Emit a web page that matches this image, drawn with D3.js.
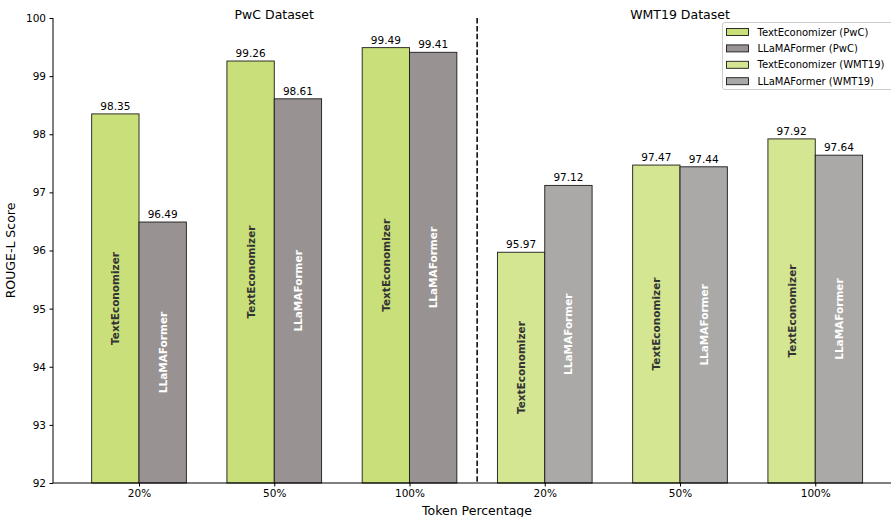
<!DOCTYPE html>
<html>
<head>
<meta charset="utf-8">
<script src="https://cdn.jsdelivr.net/npm/d3@7"></script>
<style>
  html, body { margin: 0; padding: 0; background: #fff; }
  svg { display: block; font-family: "DejaVu Sans", sans-serif; }
</style>
</head>
<body>
<svg id="chart" width="891" height="517"></svg>
<script>
// Token percentage groups, two datasets side by side
const groups = ["20%", "50%", "100%", "20%", "50%", "100%"];
const datasets = ["PwC Dataset", "WMT19 Dataset"];
const textEconomizer = [98.35, 99.26, 99.49, 95.97, 97.47, 97.92];
const llamaFormer = [96.49, 98.61, 99.41, 97.12, 97.44, 97.64];
const yTicks = [92, 93, 94, 95, 96, 97, 98, 99, 100];
const legendLabels = ["TextEconomizer (PwC)", "LLaMAFormer (PwC)", "TextEconomizer (WMT19)", "LLaMAFormer (WMT19)"];
const fills = { tePwc: "#c9e07a", llPwc: "#989392", teWmt: "#d4e691", llWmt: "#aaa9a8" };

const svg = d3.select("#chart");
const plotLeft = 53, plotRight = 891, plotTop = 18, plotBottom = 483;

const x = d3.scaleLinear().domain([-0.636, 5.56]).range([plotLeft, plotRight]);
const y = d3.scaleLinear().domain([92, 100]).range([plotBottom, plotTop]);
const step = x(1) - x(0);
const bw = step * 0.35;

const bars = [];
groups.forEach((g, i) => {
  const wmt = i >= 3;
  bars.push({ i, v: textEconomizer[i], off: -1, fill: wmt ? fills.teWmt : fills.tePwc, name: "TextEconomizer", tc: "#333" });
  bars.push({ i, v: llamaFormer[i], off: 0, fill: wmt ? fills.llWmt : fills.llPwc, name: "LLaMAFormer", tc: "#fff" });
});

const g = svg.append("g");
g.selectAll("rect.bar").data(bars).enter().append("rect")
  .attr("class", "bar")
  .attr("x", d => x(d.i) + d.off * bw)
  .attr("y", d => y(d.v))
  .attr("width", bw)
  .attr("height", d => y(92) - y(d.v))
  .attr("fill", d => d.fill)
  .attr("stroke", "#1a1a1a")
  .attr("stroke-width", 0.9);

// value labels above bars
g.selectAll("text.val").data(bars).enter().append("text")
  .attr("x", d => x(d.i) + d.off * bw + bw / 2)
  .attr("y", d => y(d.v) - 4)
  .attr("text-anchor", "middle")
  .attr("font-size", 10.5)
  .attr("fill", "#000")
  .text(d => d.v.toFixed(2));

// rotated method names inside bars
g.selectAll("text.name").data(bars).enter().append("text")
  .attr("transform", d => `translate(${x(d.i) + d.off * bw + bw / 2},${(y(d.v) + y(92)) / 2}) rotate(-90)`)
  .attr("text-anchor", "middle")
  .attr("dominant-baseline", "central")
  .attr("font-size", 10.5)
  .attr("font-weight", "bold")
  .attr("fill", d => d.tc)
  .text(d => d.name);

// axes
const yAxis = d3.axisLeft(y).tickValues(yTicks).tickSize(3.5).tickPadding(3.5).tickFormat(d3.format("d"));
svg.append("g").attr("transform", `translate(${plotLeft},0)`).call(yAxis)
  .call(s => s.selectAll("text").attr("font-size", 10.5).attr("font-family", "DejaVu Sans").attr("fill", "#000"))
  .call(s => s.selectAll("line").attr("stroke", "#000"))
  .call(s => s.select(".domain").attr("stroke", "#000").attr("d", `M0,${plotBottom}V${plotTop}`));

const xAxis = d3.axisBottom(x).tickValues(d3.range(groups.length)).tickSize(3.5).tickPadding(3.5).tickFormat(i => groups[i]);
svg.append("g").attr("transform", `translate(0,${plotBottom})`).call(xAxis)
  .call(s => s.selectAll("text").attr("font-size", 10.5).attr("font-family", "DejaVu Sans").attr("fill", "#000"))
  .call(s => s.selectAll("line").attr("stroke", "#000"))
  .call(s => s.select(".domain").attr("stroke", "#000").attr("d", `M${plotLeft},0H${plotRight}`));

// dataset separator
svg.append("line")
  .attr("x1", x(2.5)).attr("x2", x(2.5))
  .attr("y1", plotTop).attr("y2", plotBottom)
  .attr("stroke", "#000").attr("stroke-width", 1.5)
  .attr("stroke-dasharray", "5.5,2.4");

// dataset titles
svg.selectAll("text.ds").data(datasets).enter().append("text")
  .attr("x", (d, i) => x(1 + i * 3))
  .attr("y", 19)
  .attr("text-anchor", "middle")
  .attr("font-size", 12.5)
  .text(d => d);

// axis titles
svg.append("text").attr("x", 477).attr("y", 515)
  .attr("text-anchor", "middle").attr("font-size", 12.5).text("Token Percentage");
svg.append("text").attr("transform", `translate(15,${(plotTop + plotBottom) / 2}) rotate(-90)`)
  .attr("text-anchor", "middle").attr("font-size", 12.5).text("ROUGE-L Score");

// legend
const lg = svg.append("g").attr("transform", "translate(722.5,22.5)");
lg.append("rect").attr("width", 172).attr("height", 67).attr("rx", 2.5)
  .attr("fill", "#fff").attr("fill-opacity", 0.8).attr("stroke", "#ccc");
const legFills = [fills.tePwc, fills.llPwc, fills.teWmt, fills.llWmt];
legendLabels.forEach((t, k) => {
  const row = lg.append("g").attr("transform", `translate(4,${9.5 + k * 16.4})`);
  row.append("rect").attr("x", 0).attr("y", -3.5).attr("width", 22).attr("height", 7)
    .attr("fill", legFills[k]).attr("stroke", "#1a1a1a").attr("stroke-width", 0.9);
  row.append("text").attr("x", 31).attr("y", 0).attr("dominant-baseline", "central")
    .attr("font-size", 10).text(t);
});
</script>
</body>
</html>
